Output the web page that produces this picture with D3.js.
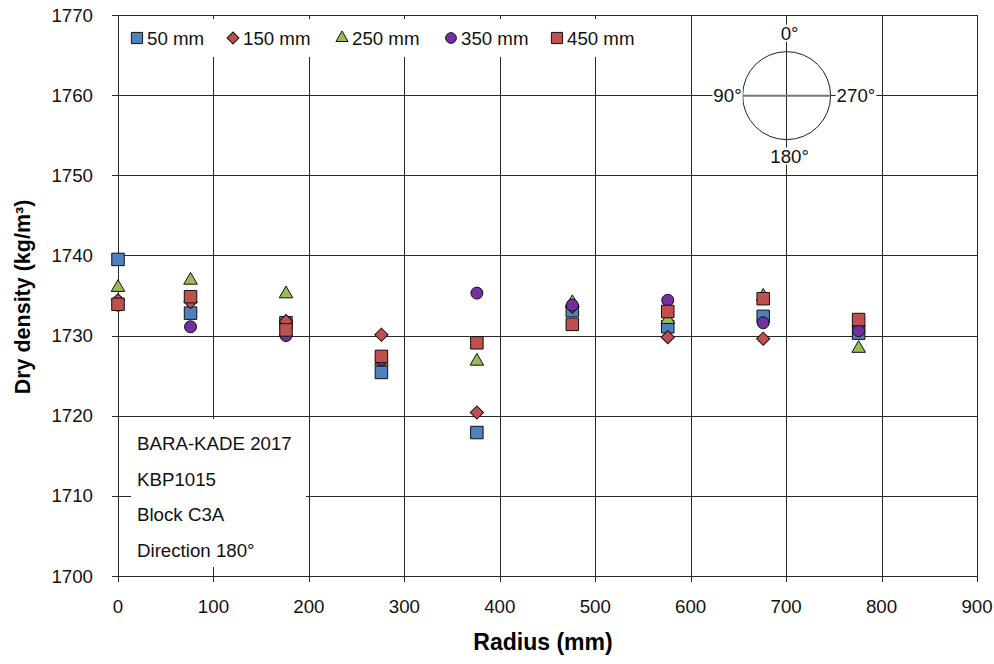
<!DOCTYPE html>
<html>
<head>
<script src="https://cdn.jsdelivr.net/npm/d3@7"></script>
<style>
  body { margin: 0; background: #fff; }
  text { font-family: "Liberation Sans", Arial, sans-serif; }
</style>
</head>
<body>
<svg id="chart" width="994" height="664"></svg>
<script>
// radius positions (mm) and dry density per depth series
const radius = [0, 76, 176, 276, 376, 476, 576, 676, 776];
const d50  = [1739.5, 1732.8, 1731.6, 1725.4, 1717.9, 1733.1, 1731.1, 1732.4, 1730.3];
const d150 = [1734.4, 1734.2, 1731.8, 1730.1, 1720.4, 1733.6, 1729.8, 1729.6, 1731.2];
const d250 = [1736.0, 1736.9, 1735.2, 1726.8, 1726.8, 1734.1, 1732.0, 1734.9, 1728.4];
const d350 = [1733.8, 1731.1, 1730.0, 1727.0, 1735.3, 1733.8, 1734.4, 1731.6, 1730.6];
const d450 = [1733.9, 1734.85, 1730.7, 1727.4, 1729.1, 1731.4, 1733.0, 1734.6, 1732.0];
const seriesNames = ['50 mm', '150 mm', '250 mm', '350 mm', '450 mm'];
const xTicks = [0, 100, 200, 300, 400, 500, 600, 700, 800, 900];
const yTicks = [1700, 1710, 1720, 1730, 1740, 1750, 1760, 1770];
const noteLines = ['BARA-KADE 2017', 'KBP1015', 'Block C3A', 'Direction 180°'];

const svg = d3.select('#chart');
const m = {left: 118, right: 977, top: 15, bottom: 576};
const fs = 18.7;

const x = d3.scaleLinear().domain([0, 900]).range([m.left, m.right]);
const y = d3.scaleLinear().domain([1700, 1770]).range([m.bottom, m.top]);

const series = [
  {name: seriesNames[0], vals: d50,  color: '#4f81bd', type: d3.symbolSquare,   size: 156, rot: 0},
  {name: seriesNames[1], vals: d150, color: '#c0504d', type: d3.symbolSquare,   size: 88,  rot: 45},
  {name: seriesNames[2], vals: d250, color: '#9bbb59', type: d3.symbolTriangle, size: 80,  rot: 0},
  {name: seriesNames[3], vals: d350, color: '#7030a0', type: d3.symbolCircle,   size: 113, rot: 0},
  {name: seriesNames[4], vals: d450, color: '#c0504d', type: d3.symbolSquare,   size: 156, rot: 0}
];

// gridlines
const grid = svg.append('g').attr('stroke', '#2a2a2a').attr('stroke-width', 1);
grid.selectAll('.gx').data(xTicks).join('line')
  .attr('x1', d => Math.round(x(d)) + 0.5).attr('x2', d => Math.round(x(d)) + 0.5)
  .attr('y1', m.top).attr('y2', m.bottom + 6);
grid.selectAll('.gy').data(yTicks).join('line')
  .attr('y1', d => Math.round(y(d)) + 0.5).attr('y2', d => Math.round(y(d)) + 0.5)
  .attr('x1', m.left - 6).attr('x2', m.right);

// tick labels
svg.append('g').selectAll('text').data(yTicks).join('text')
  .attr('x', 93).attr('y', d => y(d) + 6.5)
  .attr('text-anchor', 'end').attr('font-size', fs).attr('fill', '#111')
  .text(d => d);
svg.append('g').selectAll('text').data(xTicks).join('text')
  .attr('x', d => x(d)).attr('y', 613)
  .attr('text-anchor', 'middle').attr('font-size', fs).attr('fill', '#111')
  .text(d => d);

// axis titles
svg.append('text').attr('x', 543).attr('y', 650)
  .attr('text-anchor', 'middle').attr('font-size', 23).attr('font-weight', 'bold')
  .text('Radius (mm)');
svg.append('text').attr('transform', 'translate(30,297) rotate(-90)')
  .attr('text-anchor', 'middle').attr('font-size', 21.5).attr('font-weight', 'bold')
  .text('Dry density (kg/m³)');

// note box
svg.append('rect').attr('x', 131).attr('y', 419).attr('width', 175).attr('height', 148).attr('fill', '#fff');
svg.append('g').selectAll('text').data(noteLines).join('text')
  .attr('x', 137).attr('y', (d, i) => 450 + i * 35.5)
  .attr('font-size', fs).attr('fill', '#111')
  .text(d => d);

// legend box
svg.append('rect').attr('x', 119).attr('y', 19).attr('width', 570).attr('height', 38).attr('fill', '#fff');
const legX = [137, 233, 342, 451, 557];
const leg = svg.append('g').selectAll('g').data(series).join('g')
  .attr('transform', (d, i) => `translate(${legX[i]},38)`);
leg.append('path')
  .attr('d', d => d3.symbol().type(d.type).size(d.size * 0.8)())
  .attr('transform', d => `rotate(${d.rot})`)
  .attr('fill', d => d.color).attr('stroke', '#111').attr('stroke-width', 1);
leg.append('text').attr('x', 10).attr('y', 7)
  .attr('font-size', fs).attr('fill', '#111').text(d => d.name);

// compass
const cx = x(700) + 0.5, cy = y(1760) + 0.5;
const comp = svg.append('g');
comp.append('circle').attr('cx', cx).attr('cy', cy).attr('r', 44)
  .attr('fill', 'none').attr('stroke', '#222').attr('stroke-width', 1);
comp.append('line').attr('x1', cx - 44).attr('x2', cx + 44).attr('y1', cy).attr('y2', cy)
  .attr('stroke', '#777').attr('stroke-width', 2);
const compLabels = [
  {t: '0°', dx: 3, dy: -56, a: 'middle'},
  {t: '180°', dx: 3, dy: 67, a: 'middle'},
  {t: '90°', dx: -45, dy: 6.5, a: 'end'},
  {t: '270°', dx: 50, dy: 6.5, a: 'start'}
];
comp.selectAll('g').data(compLabels).join('g').each(function(d) {
  const g = d3.select(this);
  const txt = g.append('text').attr('x', cx + d.dx).attr('y', cy + d.dy)
    .attr('text-anchor', d.a).attr('font-size', fs).attr('fill', '#111').text(d.t);
  const bb = txt.node().getBBox();
  g.insert('rect', 'text').attr('x', bb.x - 1).attr('y', bb.y + 2)
    .attr('width', bb.width + 2).attr('height', bb.height - 4).attr('fill', '#fff');
});

// data points
series.forEach(s => {
  svg.append('g').selectAll('path').data(s.vals).join('path')
    .attr('d', d3.symbol().type(s.type).size(s.size)())
    .attr('transform', (d, i) => `translate(${x(radius[i])},${y(d)}) rotate(${s.rot})`)
    .attr('fill', s.color).attr('stroke', '#111').attr('stroke-width', 1);
});
</script>
</body>
</html>
